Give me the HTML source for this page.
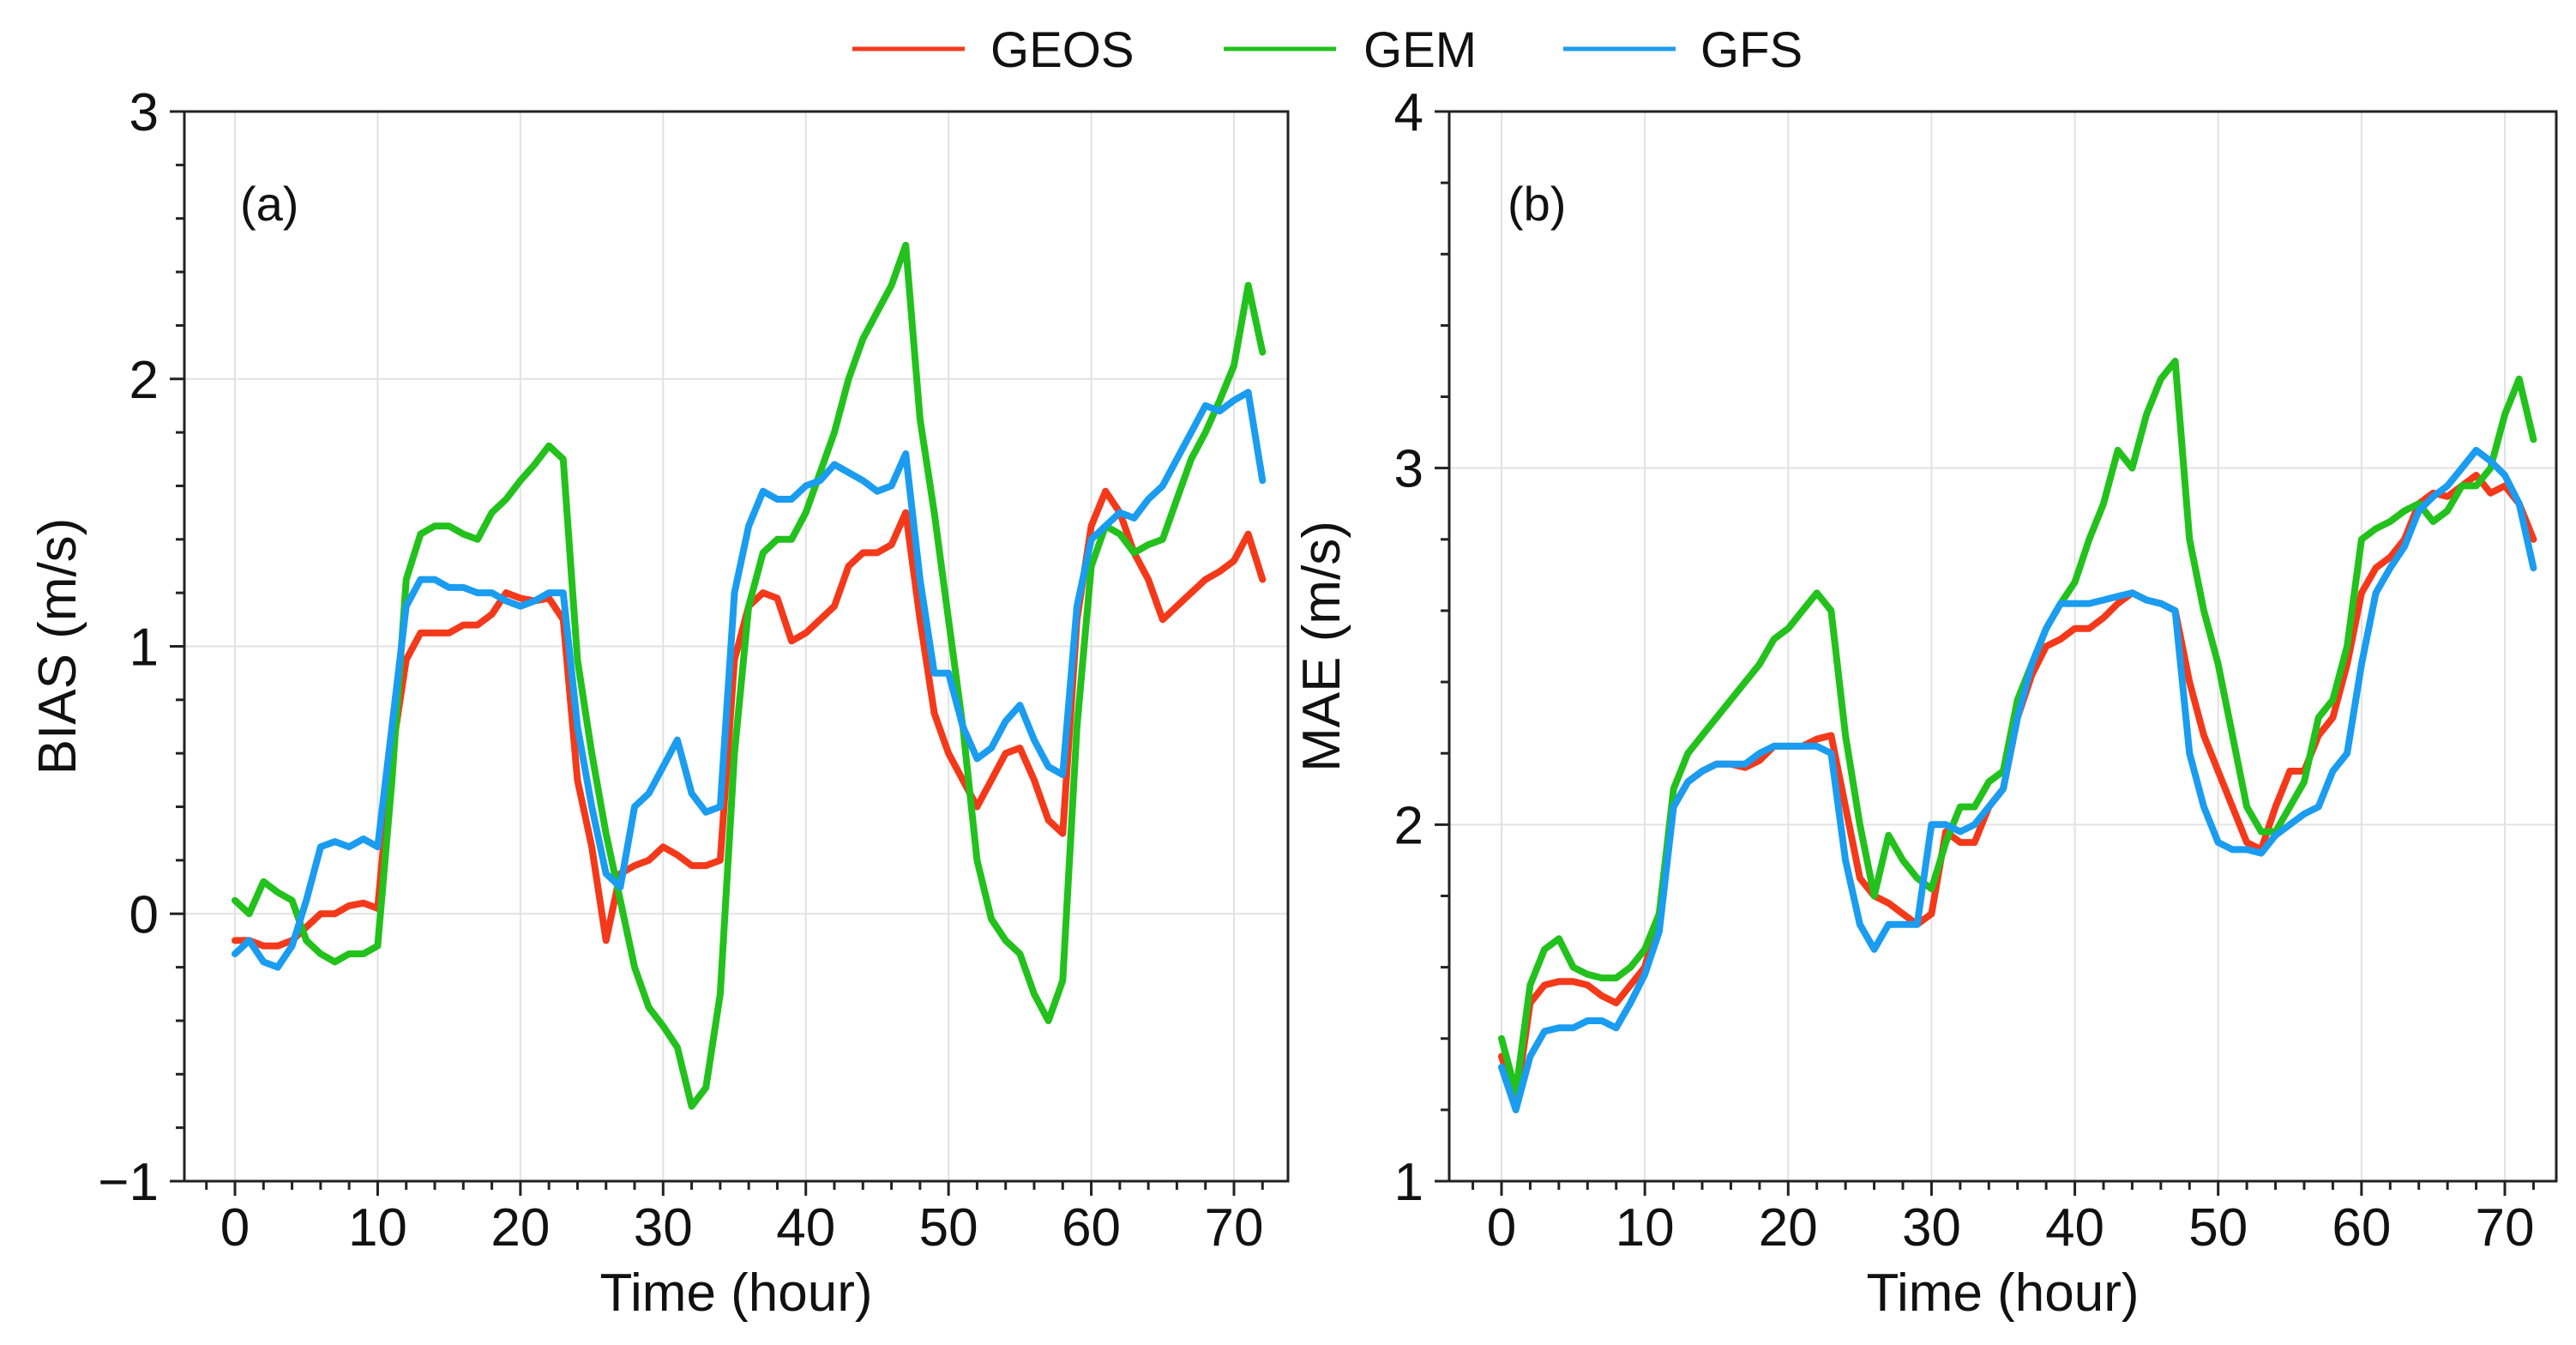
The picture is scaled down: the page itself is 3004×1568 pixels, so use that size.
<!DOCTYPE html>
<html><head><meta charset="utf-8"><style>
html,body{margin:0;padding:0;background:#fff;}
svg{display:block;font-family:"Liberation Sans",sans-serif;}
</style></head><body>
<svg id="chart" width="3004" height="1568" viewBox="0 0 3004 1568"></svg>
<script>
const hours = Array.from({length:73},(_,i)=>i);
const xTicks = [0,10,20,30,40,50,60,70];
const biasTicks = [-1,0,1,2,3];
const maeTicks = [1,2,3,4];
const seriesNames = ["GEOS","GEM","GFS"];
const biasGEOS = [-0.1,-0.1,-0.12,-0.12,-0.1,-0.05,0,0,0.03,0.04,0.02,0.6,0.95,1.05,1.05,1.05,1.08,1.08,1.12,1.2,1.18,1.17,1.18,1.1,0.5,0.25,-0.1,0.15,0.18,0.2,0.25,0.22,0.18,0.18,0.2,0.95,1.15,1.2,1.18,1.02,1.05,1.1,1.15,1.3,1.35,1.35,1.38,1.5,1.1,0.75,0.6,0.5,0.4,0.5,0.6,0.62,0.5,0.35,0.3,1.1,1.45,1.58,1.5,1.35,1.25,1.1,1.15,1.2,1.25,1.28,1.32,1.42,1.25];
const biasGEM = [0.05,0,0.12,0.08,0.05,-0.1,-0.15,-0.18,-0.15,-0.15,-0.12,0.5,1.25,1.42,1.45,1.45,1.42,1.4,1.5,1.55,1.62,1.68,1.75,1.7,0.95,0.6,0.3,0.05,-0.2,-0.35,-0.42,-0.5,-0.72,-0.65,-0.3,0.6,1.15,1.35,1.4,1.4,1.5,1.65,1.8,2.0,2.15,2.25,2.35,2.5,1.85,1.5,1.1,0.7,0.2,-0.02,-0.1,-0.15,-0.3,-0.4,-0.25,0.7,1.3,1.45,1.42,1.35,1.38,1.4,1.55,1.7,1.8,1.92,2.05,2.35,2.1];
const biasGFS = [-0.15,-0.1,-0.18,-0.2,-0.12,0.05,0.25,0.27,0.25,0.28,0.25,0.7,1.15,1.25,1.25,1.22,1.22,1.2,1.2,1.17,1.15,1.17,1.2,1.2,0.7,0.4,0.15,0.1,0.4,0.45,0.55,0.65,0.45,0.38,0.4,1.2,1.45,1.58,1.55,1.55,1.6,1.62,1.68,1.65,1.62,1.58,1.6,1.72,1.25,0.9,0.9,0.7,0.58,0.62,0.72,0.78,0.65,0.55,0.52,1.15,1.4,1.45,1.5,1.48,1.55,1.6,1.7,1.8,1.9,1.88,1.92,1.95,1.62];
const maeGEOS = [1.35,1.22,1.5,1.55,1.56,1.56,1.55,1.52,1.5,1.55,1.6,1.75,2.05,2.12,2.15,2.17,2.17,2.16,2.18,2.22,2.22,2.22,2.24,2.25,2.05,1.85,1.8,1.78,1.75,1.72,1.75,1.98,1.95,1.95,2.05,2.1,2.3,2.42,2.5,2.52,2.55,2.55,2.58,2.62,2.65,2.63,2.62,2.6,2.4,2.25,2.15,2.05,1.95,1.93,2.05,2.15,2.15,2.25,2.3,2.45,2.65,2.72,2.75,2.8,2.9,2.93,2.92,2.95,2.98,2.93,2.95,2.9,2.8];
const maeGEM = [1.4,1.25,1.55,1.65,1.68,1.6,1.58,1.57,1.57,1.6,1.65,1.75,2.1,2.2,2.25,2.3,2.35,2.4,2.45,2.52,2.55,2.6,2.65,2.6,2.25,2.0,1.8,1.97,1.9,1.85,1.82,1.95,2.05,2.05,2.12,2.15,2.35,2.45,2.55,2.62,2.68,2.8,2.9,3.05,3.0,3.15,3.25,3.3,2.8,2.6,2.45,2.25,2.05,1.98,1.98,2.05,2.12,2.3,2.35,2.5,2.8,2.83,2.85,2.88,2.9,2.85,2.88,2.95,2.95,3.0,3.15,3.25,3.08];
const maeGFS = [1.32,1.2,1.35,1.42,1.43,1.43,1.45,1.45,1.43,1.5,1.58,1.7,2.05,2.12,2.15,2.17,2.17,2.17,2.2,2.22,2.22,2.22,2.22,2.2,1.9,1.72,1.65,1.72,1.72,1.72,2.0,2.0,1.98,2.0,2.05,2.1,2.3,2.45,2.55,2.62,2.62,2.62,2.63,2.64,2.65,2.63,2.62,2.6,2.2,2.05,1.95,1.93,1.93,1.92,1.97,2.0,2.03,2.05,2.15,2.2,2.45,2.65,2.72,2.78,2.88,2.92,2.95,3.0,3.05,3.02,2.98,2.9,2.72];

const colors = {GEOS:"#f4391a", GEM:"#22c11c", GFS:"#1a9cf0"};
const NS = "http://www.w3.org/2000/svg";
const svg = document.getElementById("chart");
function mk(tag, attrs, parent){
  const e = document.createElementNS(NS, tag);
  for (const k in attrs) e.setAttribute(k, attrs[k]);
  (parent||svg).appendChild(e);
  return e;
}

function panel(cfg){
  const g = mk("g", {});
  
  
  const xs = v => cfg.x0 + (v - 0) * (cfg.x70 - cfg.x0) / 70;
  const ys = v => cfg.bottom - (v - cfg.ymin) * (cfg.bottom - cfg.top) / (cfg.ymax - cfg.ymin);
  xTicks.forEach(t => {
    const l = mk("line", {x1:xs(t), x2:xs(t), y1:cfg.top, y2:cfg.bottom, stroke:"#e2e2e2", "stroke-width":2}, g);
    
    
  });
  cfg.yTicks.forEach(t => {
    const l = mk("line", {x1:cfg.left, x2:cfg.right, y1:ys(t), y2:ys(t), stroke:"#e2e2e2", "stroke-width":2}, g);
    
    
  });
  cfg.series.forEach((s, idx) => {
    const d = s.vals.map((v,i) => (i?"L":"M") + xs(hours[i]).toFixed(1) + " " + ys(v).toFixed(1)).join(" ");
    const p = mk("path", {d:d, fill:"none", stroke:colors[seriesNames[idx]], "stroke-width":8, "stroke-linejoin":"round", "stroke-linecap":"round"}, g);
    
    
  });
  const fr = mk("rect", {x:cfg.left, y:cfg.top, width:cfg.right-cfg.left, height:cfg.bottom-cfg.top, fill:"none", stroke:"#222", "stroke-width":3}, g);
  
  
  for (let t = -2; t <= 74; t += 2) {
    const X = xs(t);
    if (X < cfg.left || X > cfg.right) continue;
    const major = t % 10 === 0;
    mk("line", {x1:X, x2:X, y1:cfg.bottom, y2:cfg.bottom + (major?17:10), stroke:"#222", "stroke-width":3}, g);
  }
  xTicks.forEach(t => {
    const tx = mk("text", {x:xs(t), y:1452, "font-size":62, "text-anchor":"middle", fill:"#111"}, g);
    tx.textContent = t;
    
    
  });
  const step = cfg.minorStep;
  for (let v = cfg.ymin; v <= cfg.ymax + 1e-9; v += step) {
    const Y = ys(v);
    const major = Math.abs(v - Math.round(v)) < 1e-6;
    mk("line", {x1:cfg.left, x2:cfg.left - (major?17:10), y1:Y, y2:Y, stroke:"#222", "stroke-width":3}, g);
  }
  cfg.yTicks.forEach(t => {
    const tx = mk("text", {x:cfg.left - 30, y:ys(t) + 22, "font-size":62, "text-anchor":"end", fill:"#111"}, g);
    tx.textContent = t < 0 ? "\u2212" + Math.abs(t) : t;
    
    
  });
  const xt = mk("text", {x:(cfg.left+cfg.right)/2, y:1528, "font-size":62, "text-anchor":"middle", fill:"#111"}, g);
  xt.textContent = "Time (hour)";
  
  
  const cy = (cfg.top + cfg.bottom)/2;
  const yt = mk("text", {x:cfg.ytitleX, y:cy, "font-size":62, "text-anchor":"middle", fill:"#111", transform:`rotate(-90 ${cfg.ytitleX} ${cy})`}, g);
  yt.textContent = cfg.ytitle;
  
  
  const lab = mk("text", {x:cfg.labelX, y:257, "font-size":56, fill:"#111"}, g);
  lab.textContent = cfg.label;
  
  
}

panel({name:"bias-panel", left:215, right:1502, top:130, bottom:1377, x0:274, x70:1439, ymin:-1, ymax:3, yTicks:biasTicks, minorStep:0.2,
  series:[{vals:biasGEOS},{vals:biasGEM},{vals:biasGFS}], ytitle:"BIAS (m/s)", ytitleX:88, label:"(a)", labelX:280});
panel({name:"mae-panel", left:1690, right:2981, top:130, bottom:1377, x0:1751, x70:2921, ymin:1, ymax:4, yTicks:maeTicks, minorStep:0.2,
  series:[{vals:maeGEOS},{vals:maeGEM},{vals:maeGFS}], ytitle:"MAE (m/s)", ytitleX:1562, label:"(b)", labelX:1758});

const legend = mk("g", {});


const legPos = [[994,1155],[1427,1590],[1823,1983]];
seriesNames.forEach((n,i) => {
  const ln = mk("line", {x1:legPos[i][0], x2:legPos[i][0]+131, y1:57, y2:57, stroke:colors[n], "stroke-width":5}, legend);
  
  
  const t = mk("text", {x:legPos[i][1], y:78, "font-size":58, fill:"#111"}, legend);
  t.textContent = n;
  
  
});
</script>
</body></html>
